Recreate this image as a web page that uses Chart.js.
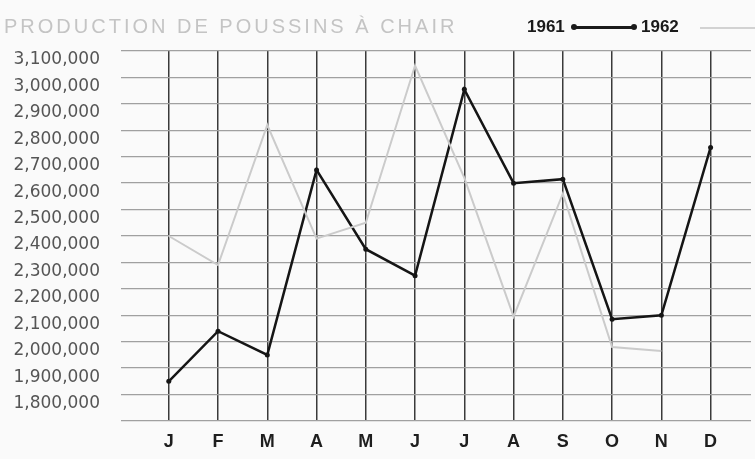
<!DOCTYPE html>
<html>
<head>
<meta charset="utf-8">
<script src="https://cdn.jsdelivr.net/npm/chart.js@4.4.1/dist/chart.umd.min.js"></script>
<style>
  html, body { margin: 0; padding: 0; background: #fafafa; overflow: hidden; }
  #wrap { position: relative; width: 755px; height: 459px; }
  #wrap canvas { position: absolute; left: 0; top: 0; }
  .titre { position: absolute; left: 4px; top: 14px; font: 20px "Liberation Sans", Arial, sans-serif;
           letter-spacing: 3px; color: #c4c4c4; line-height: 24px; white-space: nowrap; }
  .leg { position: absolute; top: 17px; font: bold 17px "Liberation Sans", Arial, sans-serif;
         line-height: 20px; color: #1a1a1a; }
  .trait { position: absolute; }
  .dot { position: absolute; width: 6px; height: 6px; border-radius: 3px; background: #1a1a1a; top: -2px; }
</style>
</head>
<body>
<div id="wrap">
  <canvas id="poussins"></canvas>
  <div class="titre">PRODUCTION DE POUSSINS À CHAIR</div>
  <div class="leg" style="left:527px">1961</div>
  <div class="trait" style="left:573px;top:26px;width:62px;height:2.5px;background:#1a1a1a">
    <span class="dot" style="left:-2px"></span><span class="dot" style="right:-2px"></span>
  </div>
  <div class="leg" style="left:641px">1962</div>
  <div class="trait" style="left:700px;top:27px;width:60px;height:2px;background:#d2d2d2"></div>
</div>
<script>
// mois (abréviations) et production mensuelle de poussins
const mois = ['J', 'F', 'M', 'A', 'M', 'J', 'J', 'A', 'S', 'O', 'N', 'D'];
const prod1961 = [1850000, 2040000, 1950000, 2650000, 2350000, 2250000, 2955000, 2600000, 2615000, 2085000, 2100000, 2735000];
const prod1962 = [2400000, 2290000, 2820000, 2390000, 2450000, 3045000, 2620000, 2095000, 2560000, 1980000, 1965000, null];
const graduations = [1700000, 1800000, 1900000, 2000000, 2100000, 2200000, 2300000, 2400000,
                     2500000, 2600000, 2700000, 2800000, 2900000, 3000000, 3100000];

const points = serie => serie.map((v, i) => ({ x: i, y: v }));

document.addEventListener('DOMContentLoaded', () => {
    const ctx = document.getElementById('poussins').getContext('2d');

    new Chart(ctx, {
        type: 'line',
        data: {
            datasets: [{
                label: '1962',
                data: points(prod1962),
                borderColor: '#cbcbcb',
                borderWidth: 2,
                pointRadius: 0,
                tension: 0
            }, {
                label: '1961',
                data: points(prod1961),
                borderColor: '#151515',
                borderWidth: 2.5,
                pointRadius: 2.5,
                pointBackgroundColor: '#151515',
                pointBorderWidth: 0,
                tension: 0
            }]
        },
        options: {
            responsive: true,
            maintainAspectRatio: false,
            animation: false,
            layout: { padding: { top: 51, left: 0, right: 0, bottom: 0 } },
            plugins: {
                legend: { display: false },
                tooltip: { enabled: false }
            },
            scales: {
                x: {
                    type: 'linear',
                    min: -0.97,
                    max: 11.82,
                    afterBuildTicks: s => { s.ticks = mois.map((m, i) => ({ value: i })); },
                    afterFit: s => { s.height = 38; },
                    border: { display: false },
                    grid: { color: '#3a3a3a', lineWidth: 1.5, drawTicks: false },
                    ticks: {
                        padding: 10,
                        color: '#1e1e1e',
                        font: { family: 'Liberation Sans', size: 18, weight: 'bold' },
                        callback: v => mois[v]
                    }
                },
                y: {
                    min: 1700000,
                    max: 3100000,
                    afterBuildTicks: s => { s.ticks = graduations.map(v => ({ value: v })); },
                    afterFit: s => { s.width = 121; },
                    border: { display: false },
                    grid: { color: '#a0a0a0', lineWidth: 1.3, drawTicks: false },
                    ticks: {
                        padding: 21,
                        labelOffset: 9,
                        color: '#555',
                        font: { family: 'DejaVu Sans', size: 17 },
                        callback: v => v === 1700000 ? '' : v.toLocaleString('en-US')
                    }
                }
            }
        }
    });
});
</script>
</body>
</html>
